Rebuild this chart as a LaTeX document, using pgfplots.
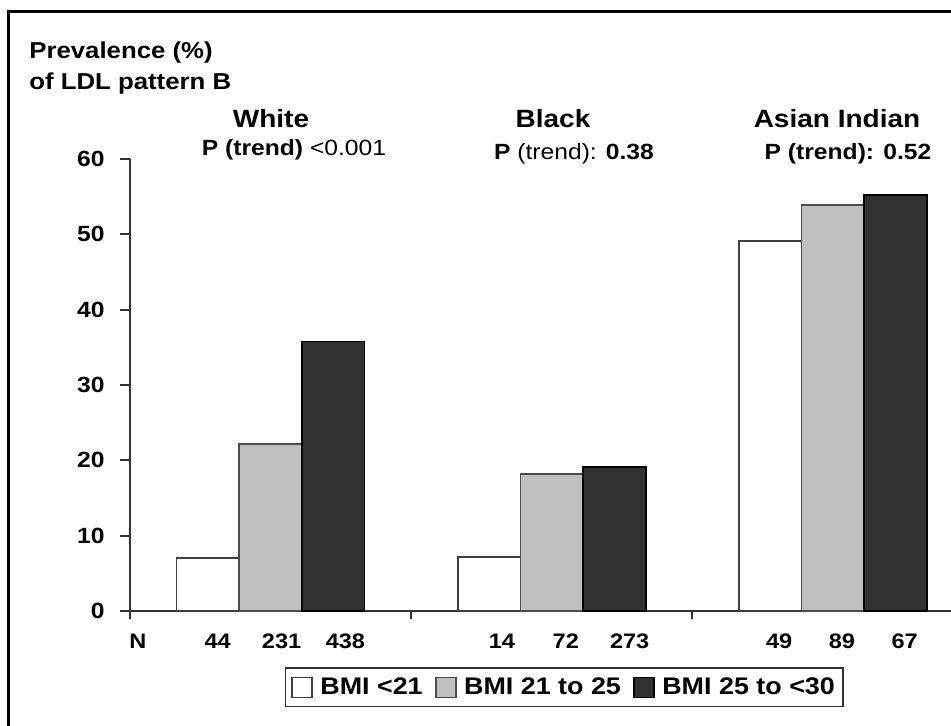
\documentclass[border=0pt]{standalone}
\usepackage{pgfplots}
\pgfplotsset{compat=1.18}
\usepackage{fontspec}
\setmainfont{Liberation Sans}[FakeStretch=1.12]
\definecolor{barlight}{HTML}{C0C0C0}
\definecolor{bardark}{HTML}{323232}
\definecolor{axisgray}{HTML}{333333}
\pgfplotsset{sqlegend/.style={legend image code/.code={\draw[##1] (0pt,-5pt) rectangle (10pt,5pt);}}}
\begin{document}
\begin{tikzpicture}
\useasboundingbox (0,0) rectangle (475.5pt,362.5pt);
\fill[white] (0,0) rectangle (475.5pt,362.5pt);
\draw[line width=1.5pt] (4pt,-2pt) -- (4pt,356.5pt) -- (478pt,356.5pt);
\begin{axis}[
  at={(65pt,57pt)}, anchor=south west,
  scale only axis, width=410.5pt, height=226pt,
  xmin=-0.5, xmax=2.42, ymin=0, ymax=60,
  axis lines=left,
  axis line style={-, line width=0.9pt, axisgray},
  ytick={0,10,20,30,40,50,60},
  ytick style={line width=0.9pt, axisgray},
  major tick length=5pt, tick align=outside,
  xtick style={draw=none},
  /pgf/number format/assume math mode=true,
  yticklabel style={font=\bfseries\fontsize{11}{13}\selectfont, inner sep=0pt, anchor=east, xshift=-7.5pt},
  xtick={-0.472,-0.188,0.039,0.266,0.823,1.050,1.277,1.809,2.032,2.255},
  xticklabels={N,44,231,438,14,72,273,49,89,67},
  xticklabel style={font=\bfseries\fontsize{10.5}{12}\selectfont, inner sep=0pt, text height=7.6pt, text depth=0pt, anchor=north, yshift=-6pt},
  clip=false,
  legend columns=3,
  legend style={at={(0.529,-0.169)}, anchor=center, draw=axisgray, line width=0.8pt,
    font=\bfseries\fontsize{12}{14}\selectfont, inner xsep=3pt, inner ysep=3.5pt,
    nodes={inner sep=1.2pt},
    /tikz/every odd column/.append style={column sep=2.5pt},
    /tikz/every even column/.append style={column sep=5pt}},
]
\addplot[ybar, bar width=0.223, bar shift=-0.223, fill=white, draw=black!75, line width=0.8pt, sqlegend]
  coordinates {(0,7.0) (1,7.2) (2,49.1)};
\addplot[ybar, bar width=0.223, bar shift=0, fill=barlight, draw=black!70, line width=0.8pt, sqlegend]
  coordinates {(0,22.2) (1,18.2) (2,53.9)};
\addplot[ybar, bar width=0.223, bar shift=0.223, fill=bardark, draw=black, line width=0.8pt, sqlegend]
  coordinates {(0,35.8) (1,19.1) (2,55.2)};
\legend{BMI <21, BMI 21 to 25, BMI 25 to <30}
\draw[line width=0.9pt, axisgray] (axis cs:-0.5,0) -- ++(0pt,-4pt);
\draw[line width=0.9pt, axisgray] (axis cs:0.5,0) -- ++(0pt,-4pt);
\draw[line width=0.9pt, axisgray] (axis cs:1.5,0) -- ++(0pt,-4pt);
\end{axis}
\node[anchor=base west, font=\bfseries\fontsize{11.5}{13}\selectfont, inner sep=0pt] at (14.5pt,333.5pt) {Prevalence (\%)};
\node[anchor=base west, font=\bfseries\fontsize{11.5}{13}\selectfont, inner sep=0pt] at (14.5pt,318pt) {of LDL pattern B};
\node[anchor=base, font=\bfseries\fontsize{12.5}{14}\selectfont, inner sep=0pt] at (135.5pt,299pt) {White};
\node[anchor=base, font=\bfseries\fontsize{12.5}{14}\selectfont, inner sep=0pt] at (276.5pt,299pt) {Black};
\node[anchor=base, font=\bfseries\fontsize{12.5}{14}\selectfont, inner sep=0pt] at (418.5pt,299pt) {Asian Indian};
\node[anchor=base, font=\fontsize{11}{13}\selectfont, inner sep=0pt] at (147pt,285pt) {\textbf{P (trend)} <0.001};
\node[anchor=base, font=\fontsize{11}{13}\selectfont, inner sep=0pt] at (287pt,283pt) {\textbf{P} (trend): \textbf{0.38}};
\node[anchor=base, font=\bfseries\fontsize{11}{13}\selectfont, inner sep=0pt] at (424pt,283pt) {P (trend): 0.52};
\end{tikzpicture}
\end{document}
